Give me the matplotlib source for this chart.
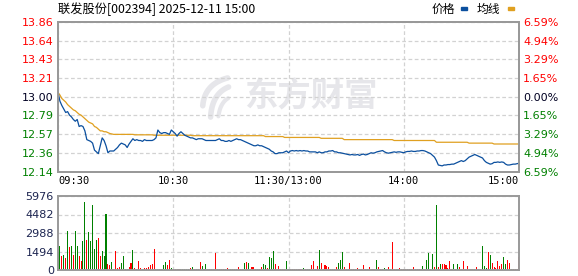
import numpy as np
import matplotlib.pyplot as plt
from matplotlib.patches import Rectangle

title = '联发股份[002394] 2025-12-11 15:00'
prev_close = 13.00

price_ticks = [13.86, 13.64, 13.43, 13.21, 13.00, 12.79, 12.57, 12.36, 12.14]
price_labels = ['13.86', '13.64', '13.43', '13.21', '13.00', '12.79', '12.57', '12.36', '12.14']
pct_labels = ['6.59%', '4.94%', '3.29%', '1.65%', '0.00%', '1.65%', '3.29%', '4.94%', '6.59%']
vol_ticks = [0, 1494, 2988, 4482, 5976]
time_labels = ['09:30', '10:30', '11:30/13:00', '14:00', '15:00']

# minute prices, 09:30 .. 11:30 then 13:01 .. 15:00
price = [
    13.05, 12.95, 12.90, 12.86, 12.82, 12.83, 12.79, 12.77, 12.74, 12.72,
    12.74, 12.66, 12.67, 12.66, 12.61, 12.51, 12.50, 12.49, 12.47, 12.39,
    12.37, 12.35, 12.44, 12.53, 12.50, 12.44, 12.36, 12.38, 12.38, 12.38,
    12.40, 12.42, 12.45, 12.47, 12.46, 12.45, 12.42, 12.46, 12.49, 12.52,
    12.50, 12.51, 12.50, 12.50, 12.49, 12.51, 12.50, 12.50, 12.50, 12.50,
    12.51, 12.53, 12.62, 12.59, 12.58, 12.59, 12.59, 12.58, 12.57, 12.62,
    12.60, 12.58, 12.55, 12.58, 12.60, 12.58, 12.56, 12.55, 12.54, 12.53,
    12.53, 12.52, 12.51, 12.52, 12.52, 12.52, 12.51, 12.50, 12.50, 12.50,
    12.50, 12.50, 12.50, 12.51, 12.52, 12.50, 12.50, 12.49, 12.49, 12.50,
    12.49, 12.50, 12.51, 12.52, 12.51, 12.51, 12.50, 12.49, 12.48, 12.47,
    12.46, 12.45, 12.44, 12.44, 12.45, 12.44, 12.44, 12.43, 12.42, 12.41,
    12.40, 12.38, 12.37, 12.35, 12.35, 12.36, 12.36, 12.36, 12.37, 12.38,
    12.36,
    12.38, 12.385, 12.38, 12.385, 12.38, 12.385, 12.38, 12.385, 12.38, 12.38,
    12.37, 12.37, 12.37, 12.37, 12.36, 12.37, 12.36, 12.36, 12.37, 12.37,
    12.38, 12.38, 12.385, 12.37, 12.37, 12.36, 12.36, 12.355, 12.35, 12.345,
    12.34, 12.335, 12.34, 12.335, 12.335, 12.34, 12.33, 12.34, 12.345, 12.335,
    12.34, 12.35, 12.36, 12.355, 12.36, 12.37, 12.375, 12.38, 12.385, 12.37,
    12.36, 12.355, 12.36, 12.365, 12.37, 12.365, 12.37, 12.37, 12.365, 12.36,
    12.37, 12.375, 12.375, 12.38, 12.375, 12.375, 12.38, 12.38, 12.385, 12.385,
    12.38, 12.37, 12.36, 12.35, 12.33, 12.31, 12.27, 12.22, 12.215, 12.21,
    12.22, 12.22, 12.225, 12.225, 12.23, 12.23, 12.24, 12.25, 12.26, 12.27,
    12.26, 12.27, 12.29, 12.31, 12.32, 12.33, 12.34, 12.33, 12.32, 12.31,
    12.30, 12.27, 12.25, 12.24, 12.23, 12.235, 12.25, 12.25, 12.255, 12.25,
    12.255, 12.25, 12.23, 12.22, 12.22, 12.225, 12.23, 12.23, 12.235, 12.24,
]

avg = [
    13.05, 13.02, 12.98, 12.96, 12.94, 12.91, 12.89, 12.87, 12.85, 12.84,
    12.82, 12.80, 12.79, 12.77, 12.75, 12.73, 12.71, 12.70, 12.69, 12.66,
    12.65, 12.63, 12.61, 12.61, 12.60, 12.60, 12.59, 12.58, 12.575, 12.57,
    12.57, 12.57, 12.57, 12.57, 12.57, 12.57, 12.57, 12.57, 12.57, 12.57,
    12.565, 12.565, 12.565, 12.565, 12.565, 12.565, 12.565, 12.565, 12.565, 12.565,
    12.56, 12.56, 12.56, 12.56, 12.56, 12.56, 12.56, 12.56, 12.56, 12.56,
    12.56, 12.56, 12.56, 12.56, 12.56, 12.56, 12.56, 12.56, 12.56, 12.56,
    12.555, 12.555, 12.555, 12.555, 12.555, 12.555, 12.555, 12.555, 12.555, 12.555,
    12.555, 12.555, 12.555, 12.555, 12.555, 12.555, 12.555, 12.555, 12.555, 12.555,
    12.555, 12.555, 12.555, 12.555, 12.555, 12.555, 12.555, 12.555, 12.555, 12.555,
    12.555, 12.555, 12.555, 12.555, 12.555, 12.555, 12.555, 12.555, 12.545, 12.545,
    12.545, 12.545, 12.545, 12.545, 12.545, 12.545, 12.545, 12.545, 12.535, 12.535,
    12.535,
    12.535, 12.535, 12.535, 12.535, 12.535, 12.535, 12.535, 12.535, 12.535, 12.535,
    12.535, 12.535, 12.535, 12.535, 12.535, 12.535, 12.525, 12.525, 12.525, 12.525,
    12.525, 12.525, 12.525, 12.525, 12.525, 12.525, 12.525, 12.525, 12.51, 12.51,
    12.51, 12.51, 12.51, 12.51, 12.51, 12.51, 12.51, 12.51, 12.51, 12.51,
    12.51, 12.51, 12.51, 12.51, 12.51, 12.51, 12.51, 12.51, 12.51, 12.51,
    12.51, 12.51, 12.51, 12.51, 12.50, 12.50, 12.50, 12.50, 12.50, 12.50,
    12.50, 12.50, 12.50, 12.50, 12.50, 12.50, 12.50, 12.50, 12.50, 12.50,
    12.50, 12.50, 12.50, 12.50, 12.50, 12.50, 12.48, 12.48, 12.48, 12.48,
    12.48, 12.48, 12.48, 12.48, 12.48, 12.48, 12.48, 12.48, 12.48, 12.48,
    12.48, 12.48, 12.48, 12.47, 12.47, 12.47, 12.47, 12.47, 12.47, 12.47,
    12.47, 12.47, 12.47, 12.47, 12.47, 12.47, 12.46, 12.46, 12.46, 12.46,
    12.46, 12.46, 12.46, 12.46, 12.46, 12.46, 12.46, 12.46, 12.46, 12.46,
]

volume = [
    1426, 1937, 1130, 1210, 968, 3147, 1829, 1937, 1210, 3147,
    1937, 1130, 726, 2340, 5488, 2421, 3067, 2340, 5246, 1695,
    2421, 2582, 1130, 1533, 1130, 4519, 484, 403, 646, 81,
    1533, 161, 242, 565, 1130, 81, 81, 242, 565, 1614,
    161, 81, 726, 161, 81, 161, 161, 242, 403, 484,
    1695, 81, 81, 81, 81, 403, 646, 403, 807, 161,
    81, 81, 81, 81, 81, 81, 81, 81, 81, 161,
    242, 81, 81, 81, 646, 323, 81, 484, 81, 81,
    81, 81, 1372, 81, 81, 81, 81, 81, 161, 81,
    81, 81, 81, 81, 242, 81, 81, 565, 646, 565,
    81, 242, 242, 81, 81, 81, 242, 484, 403, 161,
    1049, 968, 1533, 484, 81, 323, 81, 81, 81, 726,
    81,
    81, 81, 81, 81, 81, 81, 81, 162, 81, 81,
    81, 405, 729, 81, 324, 1620, 567, 81, 405, 324,
    243, 81, 81, 81, 243, 567, 810, 1458, 243, 81,
    81, 567, 81, 81, 81, 162, 81, 81, 405, 81,
    81, 243, 81, 81, 81, 810, 243, 81, 81, 162,
    81, 243, 81, 2268, 81, 81, 81, 162, 81, 81,
    81, 81, 81, 81, 243, 81, 81, 81, 81, 324,
    81, 810, 1377, 81, 1296, 243, 5265, 243, 486, 486,
    486, 405, 162, 729, 81, 486, 81, 486, 243, 81,
    729, 81, 324, 81, 81, 81, 81, 243, 81, 81,
    1944, 324, 162, 1458, 1215, 567, 243, 162, 729, 324,
    486, 1053, 486, 810, 567, 81, 81, 81, 81, 1053,
]

# r = up minute, g = down minute (one string per row of volume above)
vol_side = ''.join([
    'ggrgrgrgrg', 'grrggrgggg', 'grrgggrrgg', 'rrrggggrrg', 'rgrrrrrrrr',
    'rgrgrggrrg', 'grrrgggggr', 'grrrrgrgrr', 'rrrggrrgrr', 'grgrrrrgrg',
    'rrrrgrrggr', 'gggrrrrrrg', 'g',
    'rrrrrrrgrg', 'grrgrgrrrr', 'rggrrgggrg', 'grrrrrrrrr', 'rrrrrgrrgg',
    'grgrrggrrr', 'rrrrrrrrrg', 'rggrgrgrgr', 'rrrrrgrgrr', 'rrrrrrgrrr',
    'gggrgrrrrr', 'rggrrgrrrr',
])

blue = '#0b4f9e'
gold = '#e0a020'
red = '#ff0000'
green = '#008000'
frame = '#999999'
grid = '#d2d2d2'
mark = '#e6e6ea'

plt.rcParams['font.family'] = ['DejaVu Sans', 'Noto Sans CJK SC']

fig = plt.figure(figsize=(5.78, 2.76), dpi=100)
ax = fig.add_axes([58 / 578, 1 - 172 / 276, 461 / 578, 150.5 / 276])
axv = fig.add_axes([58 / 578, 1 - 270 / 276, 461 / 578, 74 / 276])

n = len(price)
x = np.arange(n)

# watermark: swoosh logo + text
t = np.linspace(0, 1, 30)
for (x0, y0), (cx, cy), (x1, y1), w in [((0.314, 0.44), (0.318, 0.585), (0.368, 0.625), 4.0),
                                        ((0.331, 0.365), (0.334, 0.52), (0.37, 0.565), 4.0),
                                        ((0.348, 0.37), (0.352, 0.46), (0.369, 0.49), 3.0)]:
    bx = (1 - t) ** 2 * x0 + 2 * (1 - t) * t * cx + t ** 2 * x1
    by = (1 - t) ** 2 * y0 + 2 * (1 - t) * t * cy + t ** 2 * y1
    ax.plot(bx, by, transform=ax.transAxes, color=mark, lw=w,
            solid_capstyle='round', zorder=0)
ax.text(0.548, 0.495, '东方财富', transform=ax.transAxes, ha='center', va='center',
        fontsize=24, fontweight='bold', color=mark, family='Noto Sans CJK SC', zorder=0)

ax.plot(x, avg, color=gold, lw=0.9, zorder=3)
ax.plot(x, price, color=blue, lw=0.9, zorder=4)
ax.set_xlim(0, n - 1)
ax.set_ylim(price_ticks[-1], price_ticks[0])
ax.set_yticks(price_ticks)
ax.set_yticklabels(price_labels, fontsize=8)
ax.set_xticks([0, 60, 120, 180, 240])
ax.set_xticklabels(time_labels, fontsize=7.5, family='DejaVu Sans Mono')
ax.tick_params(length=0, pad=3)
xl = ax.get_xticklabels()
xl[0].set_ha('left')
xl[-1].set_ha('right')

ax2 = ax.twinx()
ax2.set_ylim(ax.get_ylim())
ax2.set_yticks(price_ticks)
ax2.set_yticklabels(pct_labels, fontsize=8)
ax2.tick_params(length=0, pad=3)

for i, (l1, l2) in enumerate(zip(ax.get_yticklabels(), ax2.get_yticklabels())):
    p = price_ticks[i]
    c = red if p > prev_close else (green if p < prev_close else '#000022')
    l1.set_color(c)
    l2.set_color(c)

for a in (ax, axv):
    a.grid(True, color=grid, ls=(0, (3, 2)), lw=0.9)
    a.set_axisbelow(True)
for a in (ax, ax2, axv):
    for s in a.spines.values():
        s.set_color(frame)
        s.set_linewidth(1.4)

colors = [red if s == 'r' else green for s in vol_side]
axv.bar(x, volume, width=0.55, color=colors, linewidth=0)
axv.set_xlim(0, n - 1)
axv.set_ylim(0, vol_ticks[-1])
axv.set_yticks(vol_ticks)
axv.set_yticklabels([str(v) for v in vol_ticks], fontsize=8, color='#1c2450')
axv.set_xticks([60, 120, 180])
axv.set_xticklabels([])
axv.tick_params(length=0, pad=3)

fig.text(58 / 578, 1 - 9 / 276, title, fontsize=8.8, va='center', ha='left',
         family=['Noto Sans CJK SC', 'DejaVu Sans'])
fig.text(432 / 578, 1 - 9 / 276, '价格', fontsize=8.5, va='center', ha='left',
         family=['Noto Sans CJK SC', 'DejaVu Sans'])
fig.text(477 / 578, 1 - 9 / 276, '均线', fontsize=8.5, va='center', ha='left',
         family=['Noto Sans CJK SC', 'DejaVu Sans'])
fig.patches.append(Rectangle((461 / 578, 1 - 10 / 276), 6 / 578, 3 / 276,
                             transform=fig.transFigure, color=blue))
fig.patches.append(Rectangle((508 / 578, 1 - 10 / 276), 6 / 578, 3 / 276,
                             transform=fig.transFigure, color=gold))

fig.savefig('out.png', dpi=100)
